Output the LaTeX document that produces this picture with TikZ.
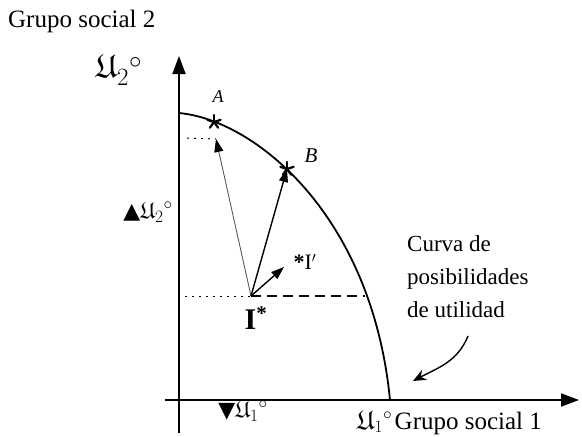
\documentclass[tikz,border=0pt]{standalone}
\usepackage{fontspec}
\setmainfont{Liberation Serif}
\newfontfamily\symfont{DejaVu Sans}
\usepackage{amssymb}
\usetikzlibrary{arrows.meta}
\begin{document}
\begin{tikzpicture}[x=1pt,y=-1pt,
  axis/.style={line width=1.8pt,-{Triangle[length=18pt,width=13pt]}},
  curvestyle/.style={line width=1.8pt},
  thinarrow/.style={line width=0.9pt,draw=black!65,-{Triangle[length=13pt,width=9pt,color=black]}},
  vecarrow/.style={line width=1.4pt,-{Triangle[length=13pt,width=9pt]}},
  dotline/.style={line width=1pt,dash pattern=on 2pt off 5pt},
  dashline/.style={line width=1.8pt,dash pattern=on 10pt off 6pt},
  lbl/.style={inner sep=0pt,font=\fontsize{23}{33}\selectfont},
  astk/.pic={\foreach \a in {-90,-18,54,126,198} \draw[line width=2.2pt,line cap=round] (0,0) -- (\a:7);}
]
\useasboundingbox (0,0) rectangle (582,437);
% axes
\coordinate (O) at (179,400);
\coordinate (ytop) at (179,56);
\coordinate (ybot) at (179,433);
\coordinate (xl) at (165,400);
\coordinate (xr) at (579,400);
\draw[axis] (ybot) -- (ytop);
\draw[axis] (xl) -- (xr);
% curve
\coordinate (C0) at (179,113);
\coordinate (C1) at (390,400);
\draw[curvestyle] (C0) .. controls (255,120) and (372,215) .. (C1);
% points
\coordinate (A) at (214,122);
\coordinate (B) at (287,169);
\coordinate (Is) at (251,296);
\coordinate (T1) at (216,139);
\coordinate (T2) at (284,267);
\coordinate (D1) at (187,138);
\coordinate (D2) at (185,296);
\coordinate (D3) at (365,296);
\pic at (A) {astk};
\pic at (B) {astk};
% guide lines
\draw[dotline] (D1) -- (T1);
\draw[dotline] (D2) -- (Is);
\draw[dashline] (Is) -- (D3);
% arrows
\draw[thinarrow] (Is) -- (T1);
\draw[vecarrow] (Is) -- (B);
\draw[vecarrow] (Is) -- (T2);
% labels
\node[inner sep=0pt,anchor=base west,font=\fontsize{25}{25}\selectfont] (g2) at (8,27) {Grupo social 2};
\node[inner sep=0pt,font=\fontsize{33}{33}\selectfont] (u2) at (119,70) {$\mathfrak{U}_2{}^{\circ}$};
\node[inner sep=0pt,font=\fontsize{18}{18}\selectfont\itshape] (la) at (218,97) {A};
\node[inner sep=0pt,font=\fontsize{21}{21}\selectfont\itshape] (lb) at (311,156) {B};
\node[inner sep=0pt,font=\fontsize{22}{22}\selectfont] (lip) at (305,262) {\textbf{*}I$'$};
\node[inner sep=0pt,font=\fontsize{30}{30}\selectfont\bfseries] (lis) at (256,318) {I\textsuperscript{*}};
\node[inner sep=0pt,font=\fontsize{23}{23}\selectfont] (du2) at (148,212) {{\symfont\fontsize{22}{22}\selectfont ▲}$\mathfrak{U}_2{}^{\circ}$};
\node[inner sep=0pt,font=\fontsize{23}{23}\selectfont] (du1) at (243,411) {{\symfont\fontsize{22}{22}\selectfont ▼}$\mathfrak{U}_1{}^{\circ}$};
\node[inner sep=0pt,anchor=base west] (u1) at (357,429) {{\fontsize{27}{27}\selectfont$\mathfrak{U}_1{}^{\circ}$} {\fontsize{25}{25}\selectfont Grupo social 1}};
\node[lbl,anchor=north west,align=left] (cv) at (407,235) {Curva de\\posibilidades\\de utilidad};
\coordinate (ca) at (468,336);
\coordinate (cb) at (413,381);
\draw[line width=1.4pt,-{Stealth[length=13pt,width=11pt]}] (ca) to[out=-112,in=28] (cb);
\end{tikzpicture}
\end{document}
